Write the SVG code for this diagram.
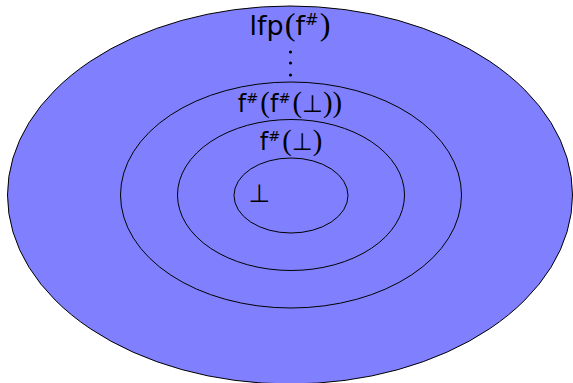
<svg xmlns="http://www.w3.org/2000/svg" width="573" height="383" viewBox="0 0 573 383">
<style>
.ring{fill:#8080ff;stroke:#000;stroke-width:1}
.lbl{font-family:"DejaVu Sans","Liberation Sans",sans-serif;fill:#000;text-anchor:middle}
.p{font-family:"Liberation Serif",serif;font-size:120%}
.sup{font-size:60%}
</style>
<rect width="573" height="383" fill="#fff"/>
<g id="lfp">
<ellipse class="ring" cx="290" cy="195" rx="282.5" ry="189"/>
<text class="lbl" x="290" y="35" font-size="27">lfp<tspan class="p" dx="1">(</tspan>f<tspan class="sup" dy="-10">#</tspan><tspan class="p" dy="10" dx="1">)</tspan></text>
<g fill="#000">
<circle cx="290.5" cy="52" r="1.6"/>
<circle cx="290.5" cy="63" r="1.6"/>
<circle cx="290.5" cy="75" r="1.6"/>
</g>
</g>
<g id="f2">
<ellipse class="ring" cx="291" cy="195" rx="170.5" ry="113"/>
<text class="lbl" x="290" y="112" font-size="24">f<tspan class="sup" dy="-9">#</tspan><tspan class="p" dy="9" dx="2">(</tspan>f<tspan class="sup" dy="-9">#</tspan><tspan class="p" dy="9" dx="2">(</tspan>⊥<tspan class="p">))</tspan></text>
</g>
<g id="f1">
<ellipse class="ring" cx="291" cy="195" rx="113.5" ry="75.5"/>
<text class="lbl" x="291" y="150" font-size="24">f<tspan class="sup" dy="-9">#</tspan><tspan class="p" dy="9" dx="2">(</tspan>⊥<tspan class="p">)</tspan></text>
</g>
<g id="bot">
<ellipse class="ring" cx="291" cy="195.5" rx="57" ry="37.5"/>
<text class="lbl" x="259.5" y="202" font-size="25">⊥</text>
</g>
</svg>
